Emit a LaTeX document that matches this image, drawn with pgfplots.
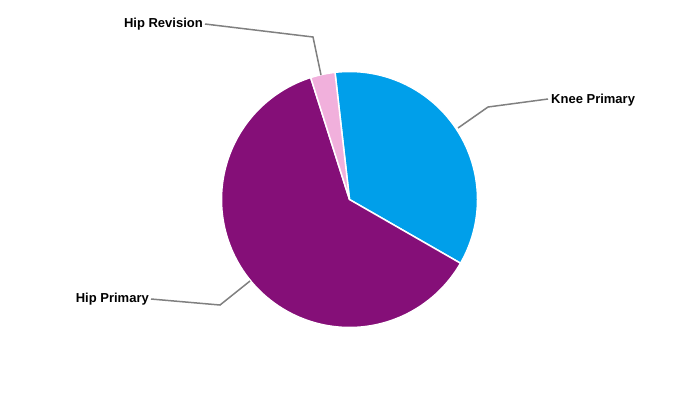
\documentclass[border=0pt]{standalone}
\usepackage{pgfplots}
\usepackage{pgfplotstable}
\pgfplotsset{compat=1.18}
\usepackage{fontspec}
\setmainfont{Liberation Sans}
\definecolor{kneeblue}{RGB}{0,159,234}
\definecolor{hipprim}{RGB}{133,15,120}
\definecolor{hiprev}{RGB}{241,176,220}
\definecolor{leader}{RGB}{128,128,128}
\pgfplotstableread{
name value
KneePrimary 35.1
HipPrimary 61.8
HipRevision 3.1
}\piedata
\begin{document}
\begin{tikzpicture}[x=1pt,y=1pt]
\pgfplotstablegetelem{0}{value}\of\piedata \let\vA\pgfplotsretval
\pgfplotstablegetelem{1}{value}\of\piedata \let\vB\pgfplotsretval
\pgfplotstablegetelem{2}{value}\of\piedata \let\vC\pgfplotsretval
\pgfmathsetmacro{\tot}{\vA+\vB+\vC}
\pgfmathsetmacro{\dg}{360/\tot}
\pgfmathsetmacro{\aS}{-96.5}
\pgfmathsetmacro{\aA}{\aS+\dg*\vA}
\pgfmathsetmacro{\aB}{\aA+\dg*\vB}
\pgfmathsetmacro{\aC}{\aB+\dg*\vC}
\begin{axis}[
  width=700pt, height=400pt, scale only axis,
  xmin=0, xmax=700, ymin=0, ymax=400, y dir=reverse,
  hide axis, clip=false,
]
\path[fill=white] (axis cs:0,0) rectangle (axis cs:700,400);
\addplot[fill=kneeblue, draw=white, line width=1.5pt, line join=round, domain=\aS:\aA, samples=90, variable=\t]
  ({349.5+128*cos(\t)},{199.5+128*sin(\t)}) -- (axis cs:349.5,199.5) -- cycle;
\addplot[fill=hipprim, draw=white, line width=1.5pt, line join=round, domain=\aA:\aB, samples=150, variable=\t]
  ({349.5+128*cos(\t)},{199.5+128*sin(\t)}) -- (axis cs:349.5,199.5) -- cycle;
\addplot[fill=hiprev, draw=white, line width=1.5pt, line join=round, domain=\aB:\aC, samples=20, variable=\t]
  ({349.5+128*cos(\t)},{199.5+128*sin(\t)}) -- (axis cs:349.5,199.5) -- cycle;
% leader lines
\addplot[leader, line width=1.5pt, mark=none] coordinates {(205,24) (313,37) (321,75)};
\addplot[leader, line width=1.5pt, mark=none] coordinates {(458,128) (488,107) (548,99)};
\addplot[leader, line width=1.5pt, mark=none] coordinates {(151,299) (220,305) (250,281)};
\node[anchor=east, inner sep=0pt, font=\fontsize{13}{15}\selectfont\bfseries] at (axis cs:203,24.5) {Hip Revision};
\node[anchor=west, inner sep=0pt, font=\fontsize{13}{15}\selectfont\bfseries] at (axis cs:551,100.5) {Knee Primary};
\node[anchor=east, inner sep=0pt, font=\fontsize{13}{15}\selectfont\bfseries] at (axis cs:149,299.5) {Hip Primary};
\end{axis}
\end{tikzpicture}
\end{document}
